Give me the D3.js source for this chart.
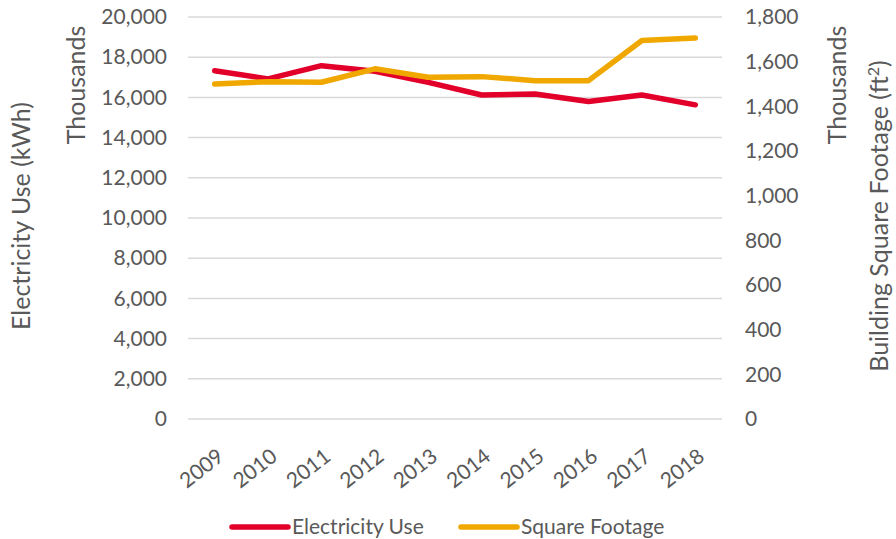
<!DOCTYPE html>
<html><head><meta charset="utf-8">
<script src="https://cdn.jsdelivr.net/npm/d3@7"></script>
<style>body{margin:0;background:#fff}svg{display:block}text{font-family:Lato,"Open Sans",sans-serif;fill:#595959}</style>
</head><body>
<svg id="c" width="896" height="539"></svg>
<script>
const years = ["2009","2010","2011","2012","2013","2014","2015","2016","2017","2018"];
const electricity = [17330,16920,17580,17300,16750,16120,16170,15800,16120,15630];
const squareFootage = [1500,1510,1508,1568,1530,1533,1515,1515,1695,1706];
const leftTicks = [0,2000,4000,6000,8000,10000,12000,14000,16000,18000,20000];
const rightTicks = [0,200,400,600,800,1000,1200,1400,1600,1800];

const svg = d3.select("#c");
const L = 188, R = 722, T = 17, B = 419;
const x = d3.scalePoint().domain(years).range([L, R]).padding(0.5);
const yL = d3.scaleLinear().domain([0, 20000]).range([B, T]);
const yR = d3.scaleLinear().domain([0, 1800]).range([B, T]);
const fmt = d3.format(",");
const tickFont = "21px";
const titleFont = "25px";

// gridlines
svg.append("g").selectAll("line").data(leftTicks).join("line")
  .attr("x1", L).attr("x2", R).attr("y1", d => yL(d)).attr("y2", d => yL(d))
  .attr("stroke", "#d9d9d9").attr("stroke-width", 1.5);

// left axis labels
const gl = svg.append("g").attr("transform", `translate(${L},0)`)
  .call(d3.axisLeft(yL).tickValues(leftTicks).tickFormat(fmt).tickSize(0).tickPadding(21));
gl.select(".domain").remove();
gl.selectAll("text").style("font-size", tickFont).style("font-family", "Lato").attr("fill", "#595959");

const gr = svg.append("g").attr("transform", `translate(${R},0)`)
  .call(d3.axisRight(yR).tickValues(rightTicks).tickFormat(fmt).tickSize(0).tickPadding(23));
gr.select(".domain").remove();
gr.selectAll("text").style("font-size", tickFont).style("font-family", "Lato").attr("fill", "#595959");

// x labels
const gx = svg.append("g").attr("transform", `translate(0,${B})`)
  .call(d3.axisBottom(x).tickSize(0).tickPadding(0));
gx.select(".domain").remove();
gx.selectAll("text")
  .style("font-size", tickFont).style("font-family", "Lato").attr("fill", "#595959")
  .attr("text-anchor", "end").attr("dy", "0")
  .attr("transform", "translate(10,40) rotate(-38)");

// lines
const lineL = d3.line().x((d, i) => x(years[i])).y(d => yL(d));
const lineR = d3.line().x((d, i) => x(years[i])).y(d => yR(d));
svg.append("path").datum(electricity).attr("d", lineL)
  .attr("fill", "none").attr("stroke", "#E2002B").attr("stroke-width", 5.5)
  .attr("stroke-linecap", "round").attr("stroke-linejoin", "round");
svg.append("path").datum(squareFootage).attr("d", lineR)
  .attr("fill", "none").attr("stroke", "#F0A800").attr("stroke-width", 5.5)
  .attr("stroke-linecap", "round").attr("stroke-linejoin", "round");

// axis titles
svg.append("text").attr("transform", "translate(30,216) rotate(-90)")
  .attr("text-anchor", "middle").style("font-size", titleFont).text("Electricity Use (kWh)");
svg.append("text").attr("transform", "translate(85,85) rotate(-90)")
  .attr("text-anchor", "middle").style("font-size", titleFont).text("Thousands");
svg.append("text").attr("transform", "translate(846,85) rotate(-90)")
  .attr("text-anchor", "middle").style("font-size", titleFont).text("Thousands");
const rt = svg.append("text").attr("transform", "translate(888,216) rotate(-90)")
  .attr("text-anchor", "middle").style("font-size", titleFont);
rt.append("tspan").text("Building Square Footage (ft");
rt.append("tspan").attr("dy", -9).style("font-size", "16px").text("2");
rt.append("tspan").attr("dy", 9).text(")");

// legend
const legend = [{name: "Electricity Use", color: "#E2002B", x: 232}, {name: "Square Footage", color: "#F0A800", x: 461}];
const lg = svg.append("g").selectAll("g").data(legend).join("g")
  .attr("transform", d => `translate(${d.x},527)`);
lg.append("line").attr("x1", 0).attr("x2", 56).attr("stroke", d => d.color)
  .attr("stroke-width", 5.5).attr("stroke-linecap", "round");
lg.append("text").attr("x", 60).attr("dy", "0.35em").style("font-size", "21px").text(d => d.name);
</script>
</body></html>
